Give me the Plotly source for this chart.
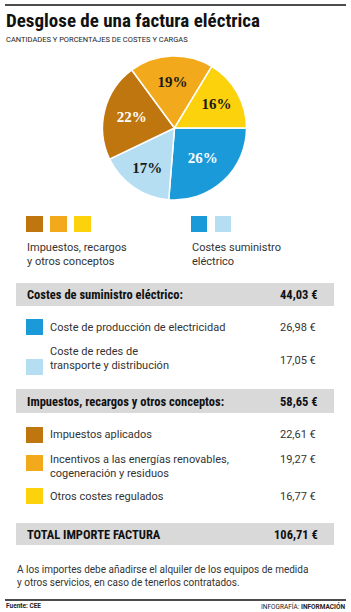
import plotly.graph_objects as go

W, H = 351, 612

# ---------------- data ----------------
title = "Desglose de una factura eléctrica"
subtitle = "CANTIDADES Y PORCENTAJES DE COSTES Y CARGAS"
categories = ["Coste de producción de electricidad",
              "Coste de redes de transporte y distribución",
              "Impuestos aplicados",
              "Incentivos a las energías renovables, cogeneración y residuos",
              "Otros costes regulados"]
row_labels = ["Coste de producción de electricidad",
              "Coste de redes de<br>transporte y distribución",
              "Impuestos aplicados",
              "Incentivos a las energías renovables,<br>cogeneración y residuos",
              "Otros costes regulados"]
values = [26.98, 17.05, 22.61, 19.27, 16.77]
colors = ["#1a9ad9", "#b6def2", "#c0760f", "#f2aa1c", "#fcd20c"]
label_colors = ["white", "#1a1a1a", "white", "#1a1a1a", "#1a1a1a"]
group_titles = ["Costes de suministro eléctrico:", "Impuestos, recargos y otros conceptos:"]
group_totals = [44.03, 58.65]
total_label = "TOTAL IMPORTE FACTURA"
total_value = 106.71
legend_groups = ["Impuestos, recargos<br>y otros conceptos", "Costes suministro<br>eléctrico"]
footnote = "A los importes debe añadirse el alquiler de los equipos de medida<br>y otros servicios, en caso de tenerlos contratados."
source = "Fuente: CEE"
credit = "INFOGRAFÍA: <b>INFORMACIÓN</b>"

BODY = "Roboto"
HEAD = "Liberation Sans Narrow, Roboto Condensed, Roboto"

def eur(v):
    return f"{v:.2f}".replace(".", ",") + " €"

def px(x):
    return x / W

def py(y):
    return 1 - y / H

fig = go.Figure()

fig.add_trace(go.Pie(
    labels=categories, values=values, sort=False, direction="clockwise",
    rotation=90,
    marker=dict(colors=colors, line=dict(color="white", width=1.5)),
    texttemplate="%{percent:.0%}", textposition="inside",
    insidetextorientation="horizontal",
    textfont=dict(family="Liberation Serif", size=15, color=label_colors, weight="bold"),
    domain=dict(x=[px(102), px(247)], y=[py(200), py(56)]),
    showlegend=False, hoverinfo="label+value+percent",
))

def txt(x, y, s, size=11, color="#333", anchor="left", bold=False, family=BODY):
    fig.add_annotation(x=px(x), y=py(y), xref="paper", yref="paper", text=s,
                       showarrow=False, xanchor=anchor, yanchor="middle", align=anchor,
                       font=dict(family=family, size=size, color=color,
                                 weight="bold" if bold else "normal"))

def rect(x0, y0, x1, y1, color):
    fig.add_shape(type="rect", xref="paper", yref="paper",
                  x0=px(x0), x1=px(x1), y0=py(y1), y1=py(y0),
                  fillcolor=color, line=dict(width=0), layer="below")

def hline(y, x0=5, x1=346, w=1.5):
    fig.add_shape(type="line", xref="paper", yref="paper", x0=px(x0), x1=px(x1),
                  y0=py(y), y1=py(y), line=dict(color="#111", width=w))

# header
hline(5)
txt(4, 21, "<b>" + title + "</b>", size=19, color="#111", family=HEAD)
txt(4, 40, subtitle, size=7.5, color="#222", family=BODY)

# legend keys
for i, c in enumerate([colors[2], colors[3], colors[4]]):
    rect(26 + i * 24, 216, 43 + i * 24, 232, c)
for i, c in enumerate([colors[0], colors[1]]):
    rect(191 + i * 24, 216, 207 + i * 24, 232, c)
txt(25, 254, legend_groups[0], size=11, color="#333", family=BODY)
txt(190, 254, legend_groups[1], size=11, color="#333", family=BODY)

# table
band = "#d9d9d9"
rect(16, 283, 334, 306, band)
txt(25, 294, group_titles[0], size=12.5, color="#111", bold=True, family=HEAD)
txt(320, 294, eur(group_totals[0]), size=12.5, color="#111", bold=True, anchor="right", family=HEAD)

rows_y = [327, 358, 434, 459, 496]
sq_y = [319, 359, 427, 455, 488]
val_y = [327, 360, 434, 459, 496]
for i in range(5):
    rect(26, sq_y[i], 43, sq_y[i] + 16, colors[i])
    txt(48, rows_y[i] if i not in (1, 3) else rows_y[i] + (0 if i == 1 else 7),
        row_labels[i], size=11, color="#333")
    txt(318, val_y[i], eur(values[i]), size=11, color="#333", anchor="right")

rect(16, 389, 334, 413, band)
txt(25, 401, group_titles[1], size=12.5, color="#111", bold=True, family=HEAD)
txt(320, 401, eur(group_totals[1]), size=12.5, color="#111", bold=True, anchor="right", family=HEAD)

rect(16, 523, 334, 545, band)
txt(25, 534, total_label, size=12.5, color="#111", bold=True, family=HEAD)
txt(320, 534, eur(total_value), size=12.5, color="#111", bold=True, anchor="right", family=HEAD)

txt(15, 576, footnote, size=10, color="#333")

hline(600)
txt(4, 606, "<b>" + source + "</b>", size=6.5, color="#222")
txt(347, 606, credit, size=6.5, color="#222", anchor="right")

fig.update_layout(
    width=W, height=H, margin=dict(l=0, r=0, t=0, b=0),
    paper_bgcolor="white", plot_bgcolor="white",
)

fig.write_html("out.html", config={"displayModeBar": False})
